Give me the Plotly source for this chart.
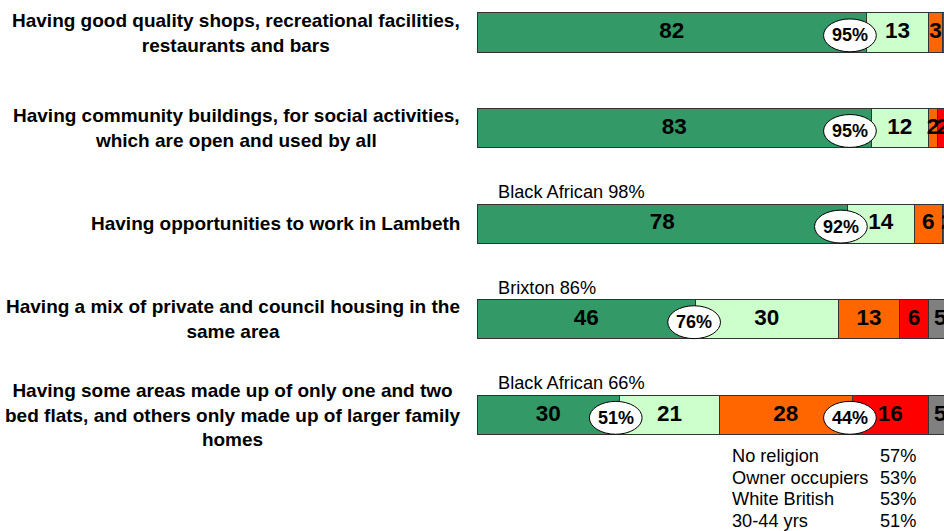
import numpy as np
import plotly.graph_objects as go

# Survey statements (top to bottom)
statements = [
    "Having good quality shops, recreational facilities,<br>restaurants and bars",
    "Having community buildings, for social activities,<br>which are open and used by all",
    "Having opportunities to work in Lambeth",
    "Having a mix of private and council housing in the<br>same area",
    "Having some areas made up of only one and two<br>bed flats, and others only made up of larger family<br>homes",
]

# Response shares (%)
strongly_agree = [82, 83, 78, 46, 30]
tend_to_agree = [13, 12, 14, 30, 21]
tend_to_disagree = [3, 2, 6, 13, 28]
strongly_disagree = [1, 2, 2, 6, 16]
dont_know = [1, 1, 0, 5, 5]

series_names = ["Strongly agree", "Tend to agree", "Tend to disagree",
                "Strongly disagree", "Don't know"]
series_values = [strongly_agree, tend_to_agree, tend_to_disagree,
                 strongly_disagree, dont_know]
series_colors = ["#339966", "#CCFFCC", "#FF6600", "#FF0000", "#808080"]

# Sub-group highlights above bars
subgroup_rows = [2, 3, 4]
subgroup_text = ["Black African 98%", "Brixton 86%", "Black African 66%"]

# Groups most likely to disagree with the last statement
disagree_groups = ["No religion", "Owner occupiers", "White British", "30-44 yrs"]
disagree_pct = [57, 53, 53, 51]

FONT = "Liberation Sans, Arial, Helvetica, sans-serif"
rows = np.arange(len(statements))
vals = np.array(series_values, dtype=float)
cum = np.cumsum(vals, axis=0)
starts = cum - vals

fig = go.Figure()
for name, v, c in zip(series_names, series_values, series_colors):
    fig.add_trace(go.Bar(
        name=name, y=rows, x=v, orientation="h", width=0.41,
        marker=dict(color=c, line=dict(color="#333333", width=1)),
        hoverinfo="x+name",
    ))

# Segment value labels (segments of 2% or more)
lx, ly, lt = [], [], []
for s in range(vals.shape[0]):
    for r in rows:
        if vals[s, r] >= 2:
            lx.append(starts[s, r] + vals[s, r] / 2)
            ly.append(r)
            lt.append(f"{int(vals[s, r])}")
fig.add_trace(go.Scatter(
    x=lx, y=ly, text=lt, mode="text", textposition="middle center",
    textfont=dict(family=FONT, size=22.5, color="black", weight="bold"),
    hoverinfo="skip", cliponaxis=True, showlegend=False,
))

# Net agree / net disagree ellipses
agree_total = [a + b for a, b in zip(strongly_agree, tend_to_agree)]
disagree_total = [a + b for a, b in zip(tend_to_disagree, strongly_disagree)]
ovals = [(r, xc, agree_total[r]) for r, xc in zip(rows, [78.5, 78.5, 76.6, 45.7, 29.2])]
ovals.append((4, 78.5, disagree_total[4]))
shapes = []
annotations = []
for r, xc, total in ovals:
    yc = r + 0.03
    shapes.append(dict(type="circle", xref="x", yref="y", layer="above",
                       x0=xc - 5.55, x1=xc + 5.55, y0=yc - 0.172, y1=yc + 0.172,
                       fillcolor="white", line=dict(color="black", width=1)))
    annotations.append(dict(x=xc, y=yc, xref="x", yref="y", text=f"{total}%",
                            showarrow=False,
                            font=dict(family=FONT, size=18, color="black", weight="bold")))

# Statement labels
for r, s in zip(rows, statements):
    annotations.append(dict(x=-0.032, y=r, xref="paper", yref="y", text=s,
                            xanchor="right", yanchor="middle", align="center",
                            showarrow=False,
                            font=dict(family=FONT, size=19, color="black", weight="bold")))

# Sub-group notes
for r, t in zip(subgroup_rows, subgroup_text):
    annotations.append(dict(x=0.04, y=r - 0.33, xref="paper", yref="y", text=t,
                            xanchor="left", yanchor="middle", showarrow=False,
                            font=dict(family=FONT, size=18.2, color="black")))

# Disagree group list
for i, (g, p) in enumerate(zip(disagree_groups, disagree_pct)):
    ypx = 456 + i * 21.7
    yp = 1 - ypx / 531
    annotations.append(dict(x=0.542, y=yp, xref="paper", yref="paper", text=g,
                            xanchor="left", yanchor="middle", showarrow=False,
                            font=dict(family=FONT, size=18.2, color="black")))
    annotations.append(dict(x=0.944, y=yp, xref="paper", yref="paper", text=f"{p}%",
                            xanchor="right", yanchor="middle", showarrow=False,
                            font=dict(family=FONT, size=18.2, color="black")))

fig.update_layout(
    width=944, height=531,
    margin=dict(l=477, r=0, t=0, b=0),
    barmode="stack", showlegend=False,
    paper_bgcolor="white", plot_bgcolor="white",
    xaxis=dict(range=[0, 98.3], visible=False, fixedrange=True),
    yaxis=dict(range=[5.214, -0.34], visible=False, fixedrange=True),
    shapes=shapes, annotations=annotations,
)

fig.write_html("out.html")
